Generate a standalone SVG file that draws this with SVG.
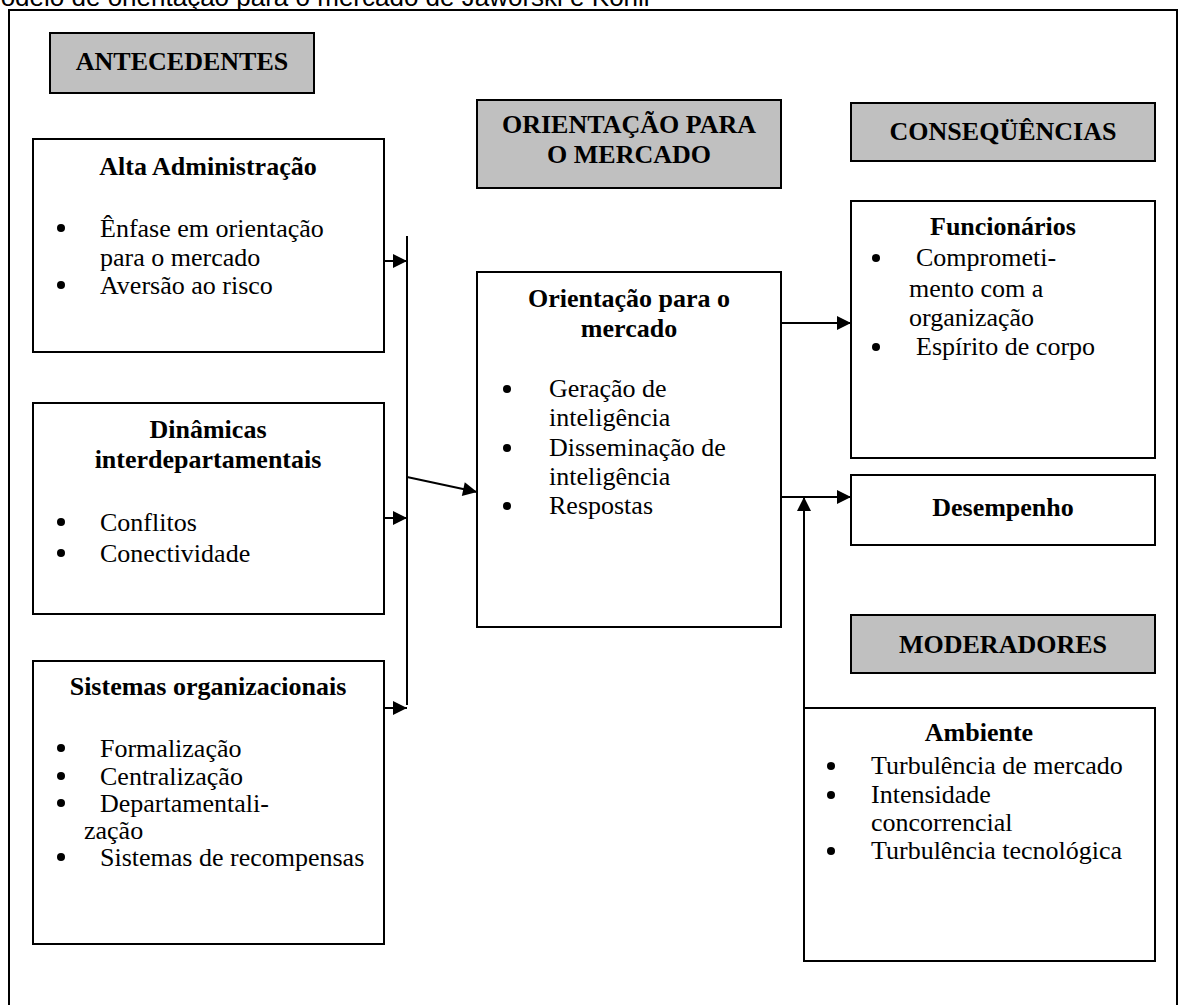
<svg xmlns="http://www.w3.org/2000/svg" width="1180" height="1005" viewBox="0 0 1180 1005">
<defs>
<style>
.box{fill:#ffffff;stroke:#000000;stroke-width:2}
.hdr{fill:#c0c0c0;stroke:#000000;stroke-width:2}
.t{font-family:"Liberation Serif","Times New Roman",serif;font-size:26px;fill:#000000}
.b{font-weight:bold;text-anchor:middle}
.c{stroke:#000000;stroke-width:2;fill:none}
.bul{fill:#000000}
</style>
<marker id="ah" viewBox="0 0 10 10" refX="10" refY="5" markerUnits="userSpaceOnUse" markerWidth="16" markerHeight="14" orient="auto">
<path d="M0,0 L10,5 L0,10 z" fill="#000000"/>
</marker>
</defs>
<rect width="1180" height="1005" fill="#ffffff"/>
<text x="-21" y="6" font-family="Liberation Sans, Arial, sans-serif" font-size="26" fill="#000000">Modelo de orientação para o mercado de Jaworski e Kohli</text>
<rect x="9" y="10" width="1168" height="1010" fill="none" stroke="#000000" stroke-width="2"/>

<g id="antecedentes">
<rect class="hdr" x="50" y="33" width="264" height="60"/>
<text class="t b" x="182" y="70">ANTECEDENTES</text>
</g>

<g id="orientacao-header">
<rect class="hdr" x="477" y="100" width="304" height="88"/>
<text class="t b" x="629" y="133">ORIENTAÇÃO PARA</text>
<text class="t b" x="629" y="163">O MERCADO</text>
</g>

<g id="consequencias">
<rect class="hdr" x="851" y="103" width="304" height="58"/>
<text class="t b" x="1003" y="140">CONSEQÜÊNCIAS</text>
</g>

<g id="moderadores">
<rect class="hdr" x="851" y="615" width="304" height="58"/>
<text class="t b" x="1003" y="653">MODERADORES</text>
</g>

<g id="alta-administracao">
<rect class="box" x="33" y="139" width="351" height="213"/>
<text class="t b" x="208" y="175">Alta Administração</text>
<circle class="bul" cx="61" cy="228" r="4"/>
<text class="t" x="100" y="237">Ênfase em orientação</text>
<text class="t" x="100" y="266">para o mercado</text>
<circle class="bul" cx="61" cy="285" r="4"/>
<text class="t" x="100" y="294">Aversão ao risco</text>
</g>

<g id="dinamicas">
<rect class="box" x="33" y="403" width="351" height="211"/>
<text class="t b" x="208" y="438">Dinâmicas</text>
<text class="t b" x="208" y="468">interdepartamentais</text>
<circle class="bul" cx="61" cy="522" r="4"/>
<text class="t" x="100" y="531">Conflitos</text>
<circle class="bul" cx="61" cy="553" r="4"/>
<text class="t" x="100" y="562">Conectividade</text>
</g>

<g id="sistemas">
<rect class="box" x="33" y="661" width="351" height="283"/>
<text class="t b" x="208" y="695">Sistemas organizacionais</text>
<circle class="bul" cx="61" cy="748" r="4"/>
<text class="t" x="100" y="757">Formalização</text>
<circle class="bul" cx="61" cy="776" r="4"/>
<text class="t" x="100" y="785">Centralização</text>
<circle class="bul" cx="61" cy="803" r="4"/>
<text class="t" x="100" y="812">Departamentali-</text>
<text class="t" x="84" y="839">zação</text>
<circle class="bul" cx="61" cy="857" r="4"/>
<text class="t" x="100" y="866">Sistemas de recompensas</text>
</g>

<g id="orientacao">
<rect class="box" x="477" y="272" width="304" height="355"/>
<text class="t b" x="629" y="307">Orientação para o</text>
<text class="t b" x="629" y="337">mercado</text>
<circle class="bul" cx="507" cy="389" r="4"/>
<text class="t" x="549" y="397">Geração de</text>
<text class="t" x="549" y="426">inteligência</text>
<circle class="bul" cx="507" cy="448" r="4"/>
<text class="t" x="549" y="456">Disseminação de</text>
<text class="t" x="549" y="485">inteligência</text>
<circle class="bul" cx="507" cy="506" r="4"/>
<text class="t" x="549" y="514">Respostas</text>
</g>

<g id="funcionarios">
<rect class="box" x="851" y="201" width="304" height="257"/>
<text class="t b" x="1003" y="235">Funcionários</text>
<circle class="bul" cx="876" cy="258" r="4"/>
<text class="t" x="916" y="266">Comprometi-</text>
<text class="t" x="909" y="297">mento com a</text>
<text class="t" x="909" y="326">organização</text>
<circle class="bul" cx="876" cy="347" r="4"/>
<text class="t" x="916" y="355">Espírito de corpo</text>
</g>

<g id="desempenho">
<rect class="box" x="851" y="475" width="304" height="70"/>
<text class="t b" x="1003" y="516">Desempenho</text>
</g>

<g id="ambiente">
<rect class="box" x="804" y="708" width="351" height="253"/>
<text class="t b" x="979" y="741">Ambiente</text>
<circle class="bul" cx="831" cy="766" r="4"/>
<text class="t" x="871" y="774">Turbulência de mercado</text>
<circle class="bul" cx="831" cy="795" r="4"/>
<text class="t" x="871" y="803">Intensidade</text>
<text class="t" x="871" y="831">concorrencial</text>
<circle class="bul" cx="831" cy="851" r="4"/>
<text class="t" x="871" y="859">Turbulência tecnológica</text>
</g>

<g id="connectors">
<path class="c" d="M407,236 V705"/>
<path class="c" d="M384,261 H407" marker-end="url(#ah)"/>
<path class="c" d="M384,518 H407" marker-end="url(#ah)"/>
<path class="c" d="M384,708 H407" marker-end="url(#ah)"/>
<path class="c" d="M407,477 L477,492" marker-end="url(#ah)"/>
<path class="c" d="M781,323 H851" marker-end="url(#ah)"/>
<path class="c" d="M781,497 H851" marker-end="url(#ah)"/>
<path class="c" d="M804,708 V497" marker-end="url(#ah)"/>
</g>
</svg>
